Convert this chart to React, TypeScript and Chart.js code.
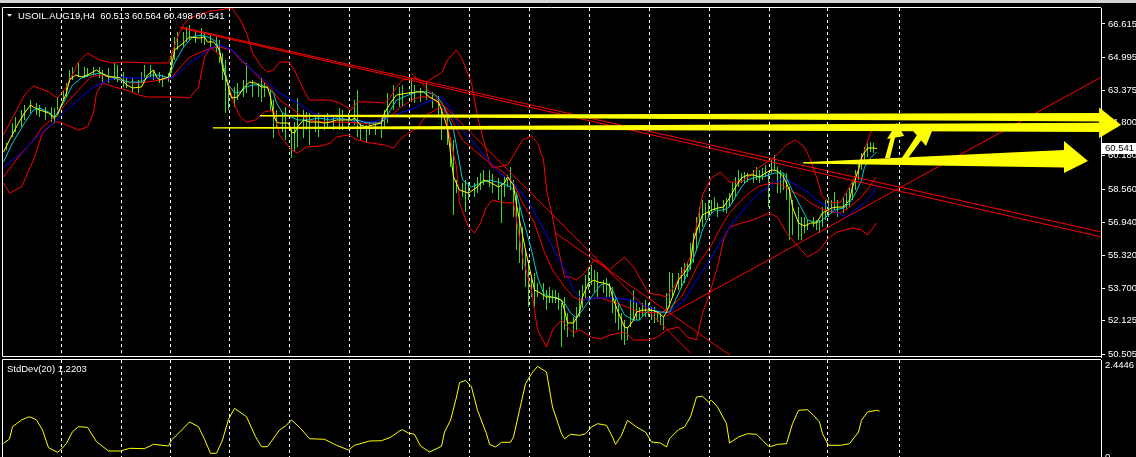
import { useEffect, useRef } from 'react';
import { Chart, registerables } from 'chart.js';

Chart.register(...registerables);

type Pt = [number, number];

const FONT = '"Liberation Sans", Arial, sans-serif';

const symbolTitle = 'USOIL.AUG19,H4  60.513 60.564 60.498 60.541';
const stdDevTitle = 'StdDev(20) 1.2203';
const lastPrice = 60.541;
const priceTicks = [66.615, 64.995, 63.375, 61.8, 60.18, 58.56, 56.94, 55.32, 53.7, 52.125, 50.505];
const priceMin = 50.359;
const priceMax = 67.396;
const stdDevTicks = [0, 2.4446];
const stdDevTop = 2.5775;
const barMin = -0.1667;
const barMax = 365.833;
const gridBars = [19.17, 39.17, 55.5, 75.17, 95.17, 115.17, 135.17, 155.17, 175.17, 195.17, 215.17, 235.17, 255.17, 274.5, 298.5];

const barIndex = [1,3,4,6,7,9,11,12,14,16,17,18,20,21,22,23,25,27,28,30,32,33,35,37,38,40,41,43,45,46,47,49,50,52,53,55,56,57,58,60,61,62,64,66,67,69,71,72,73,74,75,77,78,80,81,83,85,86,87,89,90,91,93,94,96,97,98,100,101,102,104,105,107,108,110,112,113,115,117,118,119,121,122,124,126,127,128,130,132,133,136,137,139,141,143,145,146,148,149,150,151,153,154,155,157,158,159,160,162,163,165,166,167,168,169,170,171,172,173,174,175,176,177,178,180,181,182,183,184,185,186,187,188,190,191,192,193,194,195,196,197,198,200,201,202,203,204,205,206,207,208,209,210,211,212,213,214,215,216,217,218,219,220,221,222,223,225,226,227,228,229,230,231,232,233,234,235,236,237,238,240,241,242,243,244,245,246,247,248,250,251,252,253,254,255,256,257,258,259,260,261,262,263,265,266,267,268,270,271,272,273,274,275,276,277,278,280,281,282,283,284,285,286,287,288,289,290,291];
const barHigh = [60.81,61.78,62.07,62.42,62.66,62.90,62.76,62.66,62.56,62.56,62.51,63.05,63.39,63.73,64.37,64.52,64.71,64.52,64.47,64.52,64.52,64.37,64.47,64.71,64.61,64.27,64.03,63.98,63.88,64.27,64.61,64.61,64.37,64.27,64.12,64.22,65.20,65.98,66.22,66.22,66.47,66.57,66.32,66.42,66.22,66.18,65.98,65.83,65.20,64.86,63.73,63.54,63.73,63.88,64.71,63.88,63.73,63.98,63.73,63.39,62.90,62.42,62.27,62.56,61.59,61.83,63.00,62.42,62.32,62.27,62.17,62.27,62.07,62.27,62.17,62.51,62.42,62.27,62.90,63.39,61.78,61.68,61.83,61.78,62.03,62.42,63.25,63.64,63.54,63.64,63.98,63.64,63.49,63.78,63.30,63.10,62.51,62.17,61.10,60.95,59.00,58.85,59.00,58.90,58.85,59.15,59.34,59.49,59.49,59.29,59.10,58.85,59.15,59.24,59.63,59.00,58.36,57.68,56.70,55.58,55.09,54.26,54.46,53.97,53.97,53.63,53.78,53.63,53.63,53.48,52.99,53.29,52.51,52.31,52.80,53.63,53.87,54.36,54.75,54.85,54.61,54.51,54.12,54.22,53.97,53.78,53.29,52.99,52.51,52.16,51.82,53.14,53.63,52.99,52.80,52.99,53.14,52.99,52.80,52.80,52.65,52.51,52.31,53.48,54.51,54.46,54.46,54.75,54.95,54.95,55.92,56.41,57.19,57.68,58.02,57.88,58.02,58.02,58.17,57.88,58.02,58.12,58.36,58.85,59.15,59.49,59.34,59.39,59.34,59.49,59.63,59.49,59.59,59.73,59.34,59.98,60.22,59.63,59.49,59.34,59.34,58.66,58.02,57.68,57.19,57.19,57.05,57.19,57.05,57.05,57.68,58.02,58.17,58.02,58.41,58.02,58.17,58.36,58.66,59.00,59.49,59.98,60.32,60.61,60.81,60.86,60.81,60.564];
const barLow = [60.46,61.10,61.34,61.59,61.93,62.27,62.17,62.07,61.93,61.83,61.78,62.42,62.90,63.05,63.73,63.88,64.03,63.98,64.03,64.12,63.98,63.78,63.73,63.88,63.78,63.54,63.49,63.30,63.25,63.73,63.98,64.03,63.88,63.73,63.54,63.78,64.22,64.86,65.35,65.49,65.74,65.83,65.69,65.69,65.59,65.49,65.20,64.71,63.88,62.27,62.42,62.56,62.90,63.05,63.25,63.05,63.05,62.81,63.05,62.42,61.05,61.59,61.34,60.95,60.07,60.37,60.61,61.05,61.44,60.71,61.34,61.10,61.44,61.59,61.44,61.44,61.44,61.59,61.68,61.10,60.95,60.81,61.20,61.20,61.05,61.59,61.78,62.42,62.56,62.61,62.81,62.76,62.81,62.90,62.51,62.17,60.95,60.71,59.63,57.29,58.36,58.17,57.44,58.02,58.17,58.36,58.51,58.75,58.66,58.36,58.02,56.90,58.17,58.66,58.51,57.19,55.58,54.95,54.61,53.78,52.80,53.29,52.80,53.29,53.14,52.65,52.99,52.99,52.99,52.65,50.85,51.68,51.33,51.33,51.68,52.31,52.75,53.24,53.63,53.87,53.53,53.29,53.48,53.29,53.29,52.51,52.02,51.68,51.19,50.94,51.19,51.82,52.16,52.16,52.16,52.31,52.31,52.31,52.16,52.02,52.07,51.92,51.68,52.51,52.80,53.29,53.63,53.78,53.97,54.26,54.61,54.95,55.58,56.41,56.70,57.05,57.19,57.39,57.53,57.19,57.44,57.39,57.68,57.88,58.17,58.66,58.85,58.85,58.90,58.85,59.00,58.85,59.00,59.15,57.68,59.34,59.49,58.36,58.36,58.51,58.02,56.07,56.31,56.07,56.07,56.41,56.56,56.70,56.56,56.41,56.70,57.05,57.19,57.39,57.53,57.19,57.39,57.53,57.68,58.02,58.51,59.00,59.49,59.83,60.12,60.37,60.32,60.498];

const yellowMA: Pt[] = [[0,60.37],[2,60.95],[5,61.78],[7,62.27],[9,62.66],[10,62.56],[12,62.42],[15,62.27],[17,62.03],[18,62.17],[19,62.56],[21,63.25],[22,63.88],[24,64.12],[26,64.03],[28,64.12],[31,64.37],[32,64.27],[35,64.03],[37,64.03],[39,63.98],[41,63.64],[43,63.49],[46,63.54],[48,64.12],[50,64.37],[51,64.03],[52,63.88],[55,64.03],[56,64.52],[57,65.35],[60,65.69],[62,65.98],[65,65.93],[67,65.98],[68,65.74],[70,65.74],[72,65.35],[73,64.52],[75,63.54],[76,63.00],[78,63.05],[80,63.49],[82,63.78],[84,63.73],[86,63.54],[88,63.54],[89,63.05],[90,62.17],[91,61.83],[92,61.78],[95,61.78],[96,61.34],[97,61.29],[98,61.59],[100,61.93],[102,61.83],[105,61.83],[107,61.78],[109,61.83],[111,61.93],[113,61.93],[116,61.93],[117,62.03],[119,61.68],[121,61.59],[123,61.68],[126,61.78],[127,62.27],[129,62.76],[131,63.15],[135,63.25],[138,63.30],[140,63.30],[142,63.05],[145,62.81],[146,62.42],[148,61.54],[149,60.32],[150,59.15],[152,58.51],[155,58.36],[158,58.66],[160,59.00],[162,58.90],[165,58.66],[167,58.85],[168,59.15],[170,58.75],[171,57.78],[172,57.05],[174,55.58],[176,54.26],[177,53.63],[179,53.48],[181,53.29],[183,53.29],[186,53.14],[187,52.65],[188,52.02],[190,52.02],[192,52.51],[193,53.29],[195,53.97],[197,54.12],[198,54.02],[200,53.97],[202,53.87],[203,53.29],[205,52.51],[207,51.82],[208,51.77],[210,52.16],[211,52.55],[213,52.65],[216,52.65],[218,52.55],[220,52.31],[221,52.55],[223,53.29],[225,54.12],[227,54.46],[229,54.95],[230,56.07],[232,56.90],[233,57.29],[236,57.53],[238,57.63],[240,57.68],[242,58.12],[244,58.66],[246,59.10],[248,59.24],[250,59.24],[252,59.15],[254,59.34],[256,59.49],[258,59.44],[260,59.15],[262,58.51],[263,57.68],[265,56.90],[267,56.75],[269,56.90],[271,56.90],[273,57.39],[276,57.63],[278,57.68],[280,57.68],[282,58.02],[283,58.66],[285,59.49],[286,60.12],[288,60.56],[290,60.56],[291,60.54]];

const cyanMA: Pt[] = [[0,59.88],[3,60.81],[7,61.78],[10,62.42],[12,62.51],[15,62.32],[17,62.07],[20,62.76],[23,63.64],[26,63.98],[29,64.12],[32,64.22],[36,64.03],[39,63.88],[42,63.78],[46,63.78],[49,64.12],[52,64.12],[55,63.98],[57,64.71],[60,65.49],[63,65.98],[66,66.08],[69,65.93],[71,65.74],[73,64.76],[75,63.64],[77,63.25],[79,63.30],[81,63.54],[83,63.64],[86,63.64],[88,63.49],[90,63.25],[91,62.76],[93,62.27],[96,62.07],[98,61.93],[102,61.93],[105,62.03],[109,61.93],[111,62.03],[116,61.93],[118,61.93],[120,61.83],[122,61.78],[125,61.78],[127,61.93],[129,62.42],[131,62.90],[135,63.15],[138,63.30],[141,63.30],[144,63.15],[146,62.81],[148,62.17],[150,61.44],[152,59.83],[153,59.00],[156,58.66],[159,58.85],[162,59.00],[166,58.85],[169,58.66],[171,58.36],[173,57.19],[176,55.58],[178,54.26],[180,53.48],[182,53.29],[185,53.24],[187,52.99],[189,52.51],[191,52.26],[193,52.65],[196,53.29],[199,53.87],[201,53.97],[203,53.63],[205,52.99],[207,52.41],[210,52.16],[212,52.16],[214,52.51],[216,52.65],[219,52.55],[222,52.55],[224,53.14],[226,53.78],[228,54.46],[231,55.58],[233,56.56],[235,57.19],[237,57.53],[240,57.53],[242,57.68],[244,58.17],[246,58.66],[248,59.00],[251,59.15],[253,59.15],[255,59.24],[257,59.34],[260,59.34],[261,59.10],[263,58.46],[266,57.63],[268,57.05],[270,56.95],[272,56.95],[275,57.29],[277,57.53],[280,57.63],[282,57.88],[284,58.36],[286,59.00],[287,59.63],[289,60.07],[291,60.37]];

const blueMA: Pt[] = [[0,59.63],[6,60.32],[10,60.95],[15,61.59],[17,61.83],[21,62.42],[26,63.05],[30,63.54],[35,63.88],[39,64.03],[43,63.98],[48,63.98],[52,63.98],[56,63.98],[59,64.27],[62,64.71],[66,65.10],[69,65.44],[72,65.59],[76,65.35],[79,64.95],[82,64.47],[87,63.88],[92,63.25],[98,62.76],[103,62.27],[109,62.03],[115,61.93],[119,61.83],[123,61.83],[128,62.03],[132,62.27],[137,62.51],[141,62.81],[146,63.05],[149,62.51],[152,61.59],[156,60.95],[159,60.41],[165,59.39],[170,58.85],[175,57.92],[179,56.90],[183,55.73],[187,54.61],[190,53.63],[193,53.14],[198,53.24],[203,53.24],[209,53.14],[215,52.80],[220,52.51],[222,52.55],[227,53.14],[231,54.12],[236,55.24],[240,56.22],[243,56.90],[248,57.78],[252,58.36],[257,58.85],[260,59.10],[263,58.85],[268,58.41],[271,58.02],[275,57.68],[278,57.39],[281,57.19],[283,57.44],[287,57.88],[290,58.36],[291,58.75]];

const bandUpper: Pt[] = [[0,61.20],[7,63.15],[10,63.59],[15,63.30],[18,63.00],[21,63.54],[25,64.76],[28,65.20],[32,64.86],[36,64.71],[41,64.76],[49,64.71],[55,64.71],[56,65.10],[58,65.98],[60,66.57],[62,66.91],[66,67.10],[69,67.25],[72,67.30],[76,67.40],[79,66.81],[81,66.18],[83,65.20],[86,64.52],[88,64.27],[90,64.37],[92,64.76],[95,64.76],[97,64.37],[100,63.39],[102,62.90],[109,62.90],[112,62.76],[116,62.42],[118,62.81],[122,62.81],[127,62.76],[129,63.05],[131,63.54],[133,63.88],[137,63.98],[139,63.88],[141,63.78],[143,63.98],[146,64.22],[148,64.86],[151,65.35],[153,64.86],[156,63.73],[158,62.07],[160,60.95],[162,59.83],[163,59.59],[168,59.73],[171,60.46],[173,60.95],[176,61.15],[178,60.81],[180,59.98],[181,58.51],[183,57.19],[185,55.58],[187,54.26],[189,54.26],[191,54.12],[193,54.36],[197,55.09],[199,55.00],[202,54.61],[207,55.24],[210,54.75],[215,53.48],[219,53.38],[221,53.29],[225,54.12],[229,55.24],[231,56.80],[233,58.27],[236,59.10],[239,59.39],[242,58.90],[246,58.90],[249,59.24],[252,59.63],[257,60.12],[261,60.71],[264,60.95],[267,60.61],[269,59.98],[271,59.15],[273,58.17],[276,57.88],[279,57.92],[282,58.66],[285,59.49],[287,60.46],[289,61.29],[291,61.68]];

const bandMiddle: Pt[] = [[0,59.15],[5,60.12],[10,60.95],[13,61.59],[17,62.07],[21,62.76],[26,63.54],[29,64.03],[32,64.12],[36,64.03],[39,63.88],[43,63.73],[48,63.78],[52,63.88],[56,63.98],[59,64.52],[62,65.00],[66,65.25],[69,65.44],[72,65.49],[76,65.35],[79,64.86],[82,64.47],[86,63.88],[89,63.49],[92,62.90],[96,62.51],[99,62.17],[102,61.93],[106,61.83],[112,61.83],[119,61.78],[122,61.73],[126,61.83],[129,62.12],[132,62.51],[136,62.90],[139,63.05],[142,63.05],[147,62.56],[150,61.78],[153,60.95],[158,60.32],[162,59.83],[167,59.34],[170,58.85],[173,57.88],[177,56.90],[180,55.58],[183,54.61],[187,53.78],[190,53.29],[192,53.14],[199,53.24],[206,52.90],[212,52.55],[219,52.51],[222,52.75],[226,53.29],[229,54.12],[232,55.00],[236,55.83],[239,56.66],[242,57.39],[246,58.02],[249,58.41],[252,58.71],[256,58.85],[259,58.80],[262,58.51],[266,58.22],[269,57.88],[272,57.63],[276,57.44],[279,57.39],[282,57.68],[286,58.17],[289,58.75],[291,59.15]];

const bandLower: Pt[] = [[0,58.85],[2,58.36],[6,58.66],[10,59.98],[13,61.29],[17,61.83],[19,61.83],[21,61.68],[25,61.44],[28,61.59],[30,62.27],[31,63.25],[33,63.73],[37,63.54],[41,63.39],[45,63.15],[48,63.05],[52,63.05],[59,63.05],[62,63.00],[65,63.54],[67,65.00],[69,65.49],[72,65.10],[75,63.64],[77,62.66],[79,62.07],[81,61.83],[84,61.93],[87,62.32],[90,62.42],[92,61.20],[96,60.46],[98,60.32],[101,60.61],[106,60.66],[109,60.81],[111,61.10],[115,61.20],[118,60.95],[122,60.81],[127,60.71],[130,60.56],[132,60.95],[135,61.29],[138,61.54],[141,62.17],[145,62.51],[147,62.42],[149,60.95],[151,59.63],[152,57.88],[155,56.70],[157,56.41],[159,56.90],[161,57.68],[163,58.02],[167,57.88],[170,57.88],[171,57.05],[173,55.24],[176,53.63],[178,51.68],[181,50.85],[183,51.68],[186,52.16],[188,51.82],[190,51.53],[192,51.68],[196,51.33],[199,51.24],[202,51.43],[207,51.58],[210,51.19],[215,51.19],[218,51.33],[221,51.68],[225,51.82],[228,51.33],[231,51.19],[233,52.51],[235,53.29],[238,54.75],[240,56.07],[242,56.70],[246,56.90],[250,57.05],[255,57.39],[258,57.19],[261,56.41],[265,55.73],[268,55.24],[272,55.58],[275,56.17],[278,56.46],[283,56.66],[286,56.56],[288,56.31],[291,56.90]];

const trendA: Pt[] = [[59,66.47],[366,56.46]];
const trendB: Pt[] = [[59,66.42],[366,56.22]];
const trendC: Pt[] = [[136,64.22],[229,50.55]];
const trendD: Pt[] = [[184,56.41],[242,50.46]];
const trendE: Pt[] = [[221,52.36],[366,64.03]];

const arrowLongUpper: Pt[] = [[85.5,62.17],[365.5,62.27],[365.5,61.86],[85.5,62.10]];
const arrowLongLower: Pt[] = [[69.8,61.58],[365.5,61.79],[365.5,61.34],[69.8,61.51]];
const arrowLongHead: Pt[] = [[365.2,62.54],[372.5,61.68],[365.2,61.05]];
const arrowShortBody: Pt[] = [[266.5,59.86],[353.5,60.46],[353.5,59.61],[266.5,59.80]];
const arrowShortHead: Pt[] = [[353.5,60.90],[361.5,59.93],[353.5,59.34]];
const arrowSmallAShaft: Pt[] = [[293.8,60.07],[295.5,60.07],[297.2,61.10],[295.8,61.10]];
const arrowSmallAHead: Pt[] = [[294.5,61.00],[297.8,61.78],[300.2,61.15]];
const arrowSmallBShaft: Pt[] = [[298.8,59.93],[300.8,59.93],[306.2,61.00],[304.5,61.20]];
const arrowSmallBHead: Pt[] = [[303.2,61.39],[310.2,61.64],[307.5,60.66]];

const stdDev20: Pt[] = [[0,0.364],[2,0.478],[3,0.805],[6,0.983],[8,1.055],[9,1.063],[11,0.983],[13,0.717],[15,0.247],[18,0.125],[19,0.186],[21,0.364],[23,0.672],[25,0.805],[28,0.789],[31,0.407],[35,0.159],[39,0.159],[42,0.231],[47,0.221],[50,0.337],[55,0.292],[56,0.452],[58,0.603],[62,0.930],[65,0.805],[67,0.470],[69,0.098],[71,0.098],[73,0.452],[75,1.002],[77,1.294],[81,1.071],[84,0.539],[86,0.274],[88,0.274],[92,0.717],[94,0.824],[96,0.983],[99,0.763],[102,0.486],[107,0.470],[111,0.311],[115,0.186],[117,0.311],[122,0.425],[126,0.433],[129,0.523],[132,0.691],[133,0.725],[135,0.638],[137,0.603],[139,0.292],[142,0.133],[146,0.284],[147,0.664],[149,0.975],[151,1.594],[152,1.974],[154,2.038],[156,1.860],[158,1.241],[161,0.619],[162,0.337],[164,0.266],[166,0.391],[169,0.391],[170,0.531],[172,1.241],[174,1.948],[176,2.213],[178,2.410],[181,2.259],[183,1.329],[186,0.619],[187,0.486],[189,0.603],[192,0.577],[194,0.619],[196,0.797],[198,0.885],[201,0.842],[203,0.531],[204,0.337],[206,0.577],[208,0.975],[211,0.797],[214,0.664],[216,0.399],[219,0.372],[221,0.266],[222,0.486],[225,0.725],[227,0.797],[229,1.063],[231,1.594],[233,1.613],[235,1.461],[236,1.507],[238,1.329],[241,0.885],[242,0.372],[245,0.531],[248,0.619],[251,0.603],[253,0.444],[255,0.284],[256,0.284],[258,0.337],[261,0.353],[263,0.885],[265,1.241],[268,1.257],[270,1.108],[272,0.930],[273,0.619],[275,0.311],[279,0.311],[282,0.353],[285,0.664],[286,0.975],[288,1.196],[291,1.241],[292,1.2203]];

const RED = '#ff0000';
const YELLOW = '#ffff00';
const CYAN = 'rgb(0,206,209)';
const BLUE = '#0000ff';
const GREEN = 'rgb(60,215,40)';

function lineSet(label: string, pts: Pt[], color: string, order: number) {
  return {
    type: 'line' as const,
    label,
    data: pts.map(([x, y]) => ({ x, y })),
    borderColor: color,
    borderWidth: 1,
    pointRadius: 0,
    tension: 0,
    fill: false,
    order,
  };
}

function zeroPad(s: any) {
  s.paddingTop = 0;
  s.paddingBottom = 0;
  s.paddingLeft = 0;
  s.paddingRight = 0;
}

function xScale(): any {
  return {
    type: 'linear',
    min: barMin,
    max: barMax,
    offset: false,
    afterBuildTicks: (s: any) => { s.ticks = gridBars.map((v) => ({ value: v })); },
    afterFit: (s: any) => { s.height = 0; zeroPad(s); },
    ticks: { display: false },
    grid: { display: true, color: '#ffffff', lineWidth: 1, drawTicks: false, drawOnChartArea: true, offset: false },
    border: { display: false, dash: [3, 3] },
  };
}

export default function App() {
  const mainRef = useRef<HTMLCanvasElement>(null);
  const subRef = useRef<HTMLCanvasElement>(null);

  useEffect(() => {
    if (!mainRef.current || !subRef.current) return;

    const polygon = (chart: any, pts: Pt[]) => {
      const { ctx } = chart;
      const xs = chart.scales.x;
      const ys = chart.scales.y;
      ctx.beginPath();
      pts.forEach(([i, p], k) => {
        const px = xs.getPixelForValue(i);
        const py = ys.getPixelForValue(p);
        if (k === 0) ctx.moveTo(px, py); else ctx.lineTo(px, py);
      });
      ctx.closePath();
      ctx.fill();
    };

    const mainDecor = {
      id: 'mainDecor',
      beforeDraw(chart: any) {
        const { ctx } = chart;
        ctx.save();
        ctx.fillStyle = '#d4d4d4';
        ctx.fillRect(0, 0, chart.width, 3);
        ctx.restore();
      },
      afterDraw(chart: any) {
        const { ctx, chartArea: a } = chart;
        const ys = chart.scales.y;
        ctx.save();
        ctx.strokeStyle = '#ffffff';
        ctx.lineWidth = 1;
        ctx.beginPath();
        ctx.moveTo(a.left - 0.5, a.bottom - 0.5);
        ctx.lineTo(a.left - 0.5, a.top - 0.5);
        ctx.lineTo(a.right, a.top - 0.5);
        ctx.moveTo(a.left - 0.5, a.bottom - 0.5);
        ctx.lineTo(a.right, a.bottom - 0.5);
        ctx.stroke();

        ctx.fillStyle = '#ffffff';
        ctx.beginPath();
        ctx.moveTo(7, 14);
        ctx.lineTo(12, 14);
        ctx.lineTo(9.5, 16.8);
        ctx.closePath();
        ctx.fill();
        ctx.font = `9.5px ${FONT}`;
        ctx.textBaseline = 'alphabetic';
        ctx.textAlign = 'left';
        ctx.fillText(symbolTitle, 18, 19);

        const py = ys.getPixelForValue(lastPrice);
        ctx.fillStyle = '#ffffff';
        ctx.fillRect(a.right + 1, Math.round(py) - 5, 35, 11);
        ctx.fillStyle = '#000000';
        ctx.font = `9.5px ${FONT}`;
        ctx.textBaseline = 'middle';
        ctx.fillText(lastPrice.toFixed(3), a.right + 4, Math.round(py) + 0.5);

        ctx.fillStyle = YELLOW;
        [arrowLongUpper, arrowLongLower, arrowLongHead, arrowShortBody, arrowShortHead,
          arrowSmallAShaft, arrowSmallAHead, arrowSmallBShaft, arrowSmallBHead].forEach((s) => polygon(chart, s));
        ctx.restore();
      },
    };

    const subDecor = {
      id: 'subDecor',
      afterDraw(chart: any) {
        const { ctx, chartArea: a } = chart;
        ctx.save();
        ctx.strokeStyle = '#ffffff';
        ctx.lineWidth = 1;
        ctx.beginPath();
        ctx.moveTo(a.left - 0.5, chart.height);
        ctx.lineTo(a.left - 0.5, a.top - 0.5);
        ctx.lineTo(a.right, a.top - 0.5);
        ctx.stroke();
        ctx.fillStyle = '#ffffff';
        ctx.font = `9.5px ${FONT}`;
        ctx.textBaseline = 'alphabetic';
        ctx.textAlign = 'left';
        ctx.fillText(stdDevTitle, 7, 14);
        ctx.restore();
      },
    };

    const main = new Chart(mainRef.current, {
      type: 'line',
      data: {
        datasets: [
          {
            type: 'bar' as const,
            label: 'bars',
            data: barIndex.map((x, k) => ({ x, y: [barLow[k], barHigh[k]] })) as any,
            backgroundColor: GREEN,
            borderWidth: 0,
            barThickness: 1,
            inflateAmount: 0,
            grouped: false,
            order: 10,
          } as any,
          lineSet('upper', bandUpper, RED, 6),
          lineSet('middle', bandMiddle, RED, 6),
          lineSet('lower', bandLower, RED, 6),
          lineSet('blue', blueMA, BLUE, 5),
          lineSet('cyan', cyanMA, CYAN, 4),
          lineSet('yellow', yellowMA, YELLOW, 3),
          lineSet('tA', trendA, RED, 1),
          lineSet('tB', trendB, RED, 1),
          lineSet('tC', trendC, RED, 1),
          lineSet('tD', trendD, RED, 1),
          lineSet('tE', trendE, RED, 1),
        ],
      },
      options: {
        responsive: false,
        animation: false,
        devicePixelRatio: 1,
        events: [],
        layout: { padding: { left: 3, top: 8, right: 0, bottom: 1 } },
        plugins: { legend: { display: false }, tooltip: { enabled: false }, title: { display: false } },
        scales: {
          x: xScale(),
          y: {
            type: 'linear',
            position: 'right',
            min: priceMin,
            max: priceMax,
            beginAtZero: false,
            afterBuildTicks: (s: any) => { s.ticks = priceTicks.map((v) => ({ value: v })); },
            afterFit: (s: any) => { s.width = 35; zeroPad(s); },
            ticks: {
              color: '#ffffff',
              font: { family: FONT, size: 9.5 },
              padding: 3,
              autoSkip: false,
              callback: (v: any) => Number(v).toFixed(3),
            },
            grid: { drawOnChartArea: false, drawTicks: true, tickLength: 4, color: '#ffffff' },
            border: { display: true, color: '#ffffff' },
          } as any,
        },
      },
      plugins: [mainDecor],
    });

    const sub = new Chart(subRef.current, {
      type: 'line',
      data: {
        datasets: [lineSet('stddev', stdDev20, YELLOW, 1)],
      },
      options: {
        responsive: false,
        animation: false,
        devicePixelRatio: 1,
        events: [],
        layout: { padding: { left: 3, top: 2, right: 0, bottom: 0 } },
        plugins: { legend: { display: false }, tooltip: { enabled: false }, title: { display: false } },
        scales: {
          x: xScale(),
          y: {
            type: 'linear',
            position: 'right',
            min: 0,
            max: stdDevTop,
            afterBuildTicks: (s: any) => { s.ticks = stdDevTicks.map((v) => ({ value: v })); },
            afterFit: (s: any) => { s.width = 35; zeroPad(s); },
            ticks: {
              color: '#ffffff',
              font: { family: FONT, size: 9.5 },
              padding: 4,
              autoSkip: false,
              callback: (v: any) => (Number(v) === 0 ? '0' : Number(v).toFixed(4)),
            },
            grid: { drawOnChartArea: false, drawTicks: false, color: '#ffffff' },
            border: { display: true, color: '#ffffff' },
          } as any,
        },
      },
      plugins: [subDecor],
    });

    return () => {
      main.destroy();
      sub.destroy();
    };
  }, []);

  return (
    <div style={{ position: 'fixed', left: 0, top: 0, width: 1136, height: 457, background: '#000', overflow: 'hidden' }}>
      <canvas ref={mainRef} width={1136} height={358} style={{ position: 'absolute', left: 0, top: 0, width: 1136, height: 358 }} />
      <canvas ref={subRef} width={1136} height={99} style={{ position: 'absolute', left: 0, top: 358, width: 1136, height: 99 }} />
    </div>
  );
}
